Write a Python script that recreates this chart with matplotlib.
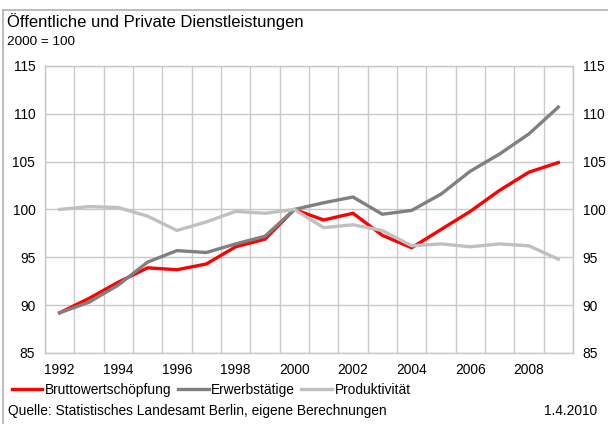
import matplotlib.pyplot as plt
from matplotlib.lines import Line2D
import numpy as np

plt.rcParams['font.family'] = ['Liberation Sans', 'DejaVu Sans']

# Indexwerte, 2000 = 100
jahre = list(range(1992, 2010))
bruttowertschoepfung = [89.2, 90.7, 92.4, 93.9, 93.7, 94.3, 96.1, 96.9, 100.0,
                        98.9, 99.6, 97.3, 96.0, 97.9, 99.8, 102.0, 103.9, 104.9]
erwerbstaetige = [89.2, 90.3, 92.1, 94.5, 95.7, 95.5, 96.4, 97.2, 100.0,
                  100.7, 101.3, 99.5, 99.9, 101.6, 104.0, 105.8, 107.9, 110.7]
produktivitaet = [100.0, 100.3, 100.2, 99.3, 97.8, 98.7, 99.8, 99.6, 100.0,
                  98.1, 98.4, 97.8, 96.2, 96.4, 96.1, 96.4, 96.2, 94.8]

serien = ["Bruttowertschöpfung", "Erwerbstätige", "Produktivität"]
farben = ["#FF0000", "#808080", "#C0C0C0"]
x_labels = [str(j) for j in range(1992, 2009, 2)]

fig = plt.figure(figsize=(6.08, 4.24), dpi=100)
ax = fig.add_axes([0.074, 0.1675, 0.8684, 0.677])

gitter = "#C8C8C8"
# erste Reihe liegt unten
for i, (werte, farbe, name) in enumerate(zip(
        [bruttowertschoepfung, erwerbstaetige, produktivitaet], farben, serien)):
    ax.plot(jahre, werte, color=farbe, lw=2.4, label=name, zorder=3 + i)

ax.set_xlim(1991.5, 2009.5)
ax.set_ylim(85, 115)
ax.set_yticks(range(85, 116, 5))
ax.set_xticks(range(1992, 2009, 2))
ax.set_xticklabels(x_labels)
ax.set_xticks(np.arange(1991.5, 2010, 1), minor=True)
ax.grid(True, axis="y", color=gitter, lw=1)
ax.grid(True, axis="x", which="minor", color=gitter, lw=1)
ax.set_axisbelow(True)
for s in ax.spines.values():
    s.set_color(gitter)
    s.set_linewidth(1)
ax.tick_params(axis="both", which="both", length=0, labelsize=9.9, colors="black")
ax.tick_params(axis="y", labelright=True, pad=7)
ax.tick_params(axis="x", pad=7)

# Titel und Untertitel
fig.text(0.012, 0.937, "Öffentliche und Private Dienstleistungen", fontsize=12,
         va="baseline")
fig.text(0.012, 0.893, "2000 = 100", fontsize=9.7, va="baseline")

# Legende unten
handles = [Line2D([], [], color=c, lw=2.4) for c in farben]
fig.legend(handles, serien, loc="lower left", bbox_to_anchor=(0.019, 0.063),
           ncol=3, frameon=False, fontsize=9.9, handlelength=2.25,
           handletextpad=0.2, columnspacing=0.43, borderpad=0, borderaxespad=0)

fig.text(0.013, 0.022, "Quelle: Statistisches Landesamt Berlin, eigene Berechnungen",
         fontsize=9.9, va="baseline")
fig.text(0.982, 0.022, "1.4.2010", fontsize=9.9, va="baseline", ha="right")

# Rahmenlinien oben und links
fig.add_artist(Line2D([0.005, 1.0], [0.977, 0.977], color="#B0B0B0", lw=1.2))
fig.add_artist(Line2D([0.005, 0.005], [0.0, 0.977], color="#B0B0B0", lw=1.2))

fig.savefig("out.png", dpi=100)
